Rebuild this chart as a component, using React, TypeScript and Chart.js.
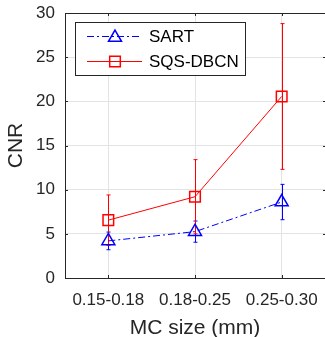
import React, { useEffect, useRef } from "react";
import { Chart, registerables } from "chart.js";

Chart.register(...registerables);

const categories = ["0.15-0.18", "0.18-0.25", "0.25-0.30"];
const seriesNames = ["SART", "SQS-DBCN"];
const sartValues = [4.2, 5.25, 8.6];
const sartErrors = [1.0, 1.2, 2.0];
const sqsValues = [6.55, 9.2, 20.55];
const sqsErrors = [2.85, 4.2, 8.25];
const yMin = 0;
const yMax = 30;
const yStep = 5;
const xTitle = "MC size (mm)";
const yTitle = "CNR";

const FONT = "'Liberation Sans', Arial, Helvetica, sans-serif";
const AXIS = "#262626";
const BLUE = "#0000ff";
const RED = "#ff0000";
const SART_DASH = [7, 3, 2, 3];

const errorSets = [sartErrors, sqsErrors];

function drawMarker(ctx: CanvasRenderingContext2D, style: string, x: number, y: number, r: number) {
  ctx.beginPath();
  if (style === "triangle") {
    let rad = 0;
    ctx.moveTo(x + Math.sin(rad) * r, y - Math.cos(rad) * r);
    rad += (2 * Math.PI) / 3;
    ctx.lineTo(x + Math.sin(rad) * r, y - Math.cos(rad) * r);
    rad += (2 * Math.PI) / 3;
    ctx.lineTo(x + Math.sin(rad) * r, y - Math.cos(rad) * r);
    ctx.closePath();
  } else {
    const s = r * Math.SQRT1_2;
    ctx.rect(x - s, y - s, 2 * s, 2 * s);
  }
  ctx.stroke();
}

const errorBarPlugin = {
  id: "errorBars",
  beforeDatasetsDraw(chart: any) {
    const ctx = chart.ctx as CanvasRenderingContext2D;
    const xs = chart.scales.x;
    const ys = chart.scales.y;
    chart.data.datasets.forEach((ds: any, di: number) => {
      const errs = errorSets[di];
      ctx.save();
      ctx.strokeStyle = ds.borderColor;
      ctx.lineWidth = 1;
      ctx.setLineDash([]);
      ds.data.forEach((p: any, i: number) => {
        const x = Math.round(xs.getPixelForValue(p.x)) + 0.5;
        const yt = ys.getPixelForValue(p.y + errs[i]);
        const yb = ys.getPixelForValue(p.y - errs[i]);
        ctx.beginPath();
        ctx.moveTo(x, yt);
        ctx.lineTo(x, yb);
        ctx.moveTo(x - 2, yt);
        ctx.lineTo(x + 2, yt);
        ctx.moveTo(x - 2, yb);
        ctx.lineTo(x + 2, yb);
        ctx.stroke();
      });
      ctx.restore();
    });
  },
};

const framePlugin = {
  id: "frameAndLegend",
  afterDraw(chart: any) {
    const ctx = chart.ctx as CanvasRenderingContext2D;
    const { left, right, top, bottom } = chart.chartArea;
    const xs = chart.scales.x;
    const ys = chart.scales.y;
    ctx.save();
    ctx.strokeStyle = AXIS;
    ctx.lineWidth = 1;
    ctx.beginPath();
    ctx.moveTo(left, top + 0.5);
    ctx.lineTo(right + 1, top + 0.5);
    const tl = 3;
    for (let v = yMin; v <= yMax; v += yStep) {
      const y = Math.round(ys.getPixelForValue(v)) + 0.5;
      ctx.moveTo(left, y);
      ctx.lineTo(left + tl, y);
      ctx.moveTo(right + 1, y);
      ctx.lineTo(right + 1 - tl, y);
    }
    categories.forEach((_, i) => {
      const x = Math.round(xs.getPixelForValue(i + 1)) + 0.5;
      ctx.moveTo(x, top);
      ctx.lineTo(x, top + tl);
      ctx.moveTo(x, bottom);
      ctx.lineTo(x, bottom - tl);
    });
    ctx.stroke();

    // legend
    const bx = 75.5, by = 22.5, bw = 170, bh = 53;
    ctx.fillStyle = "#ffffff";
    ctx.fillRect(bx, by, bw, bh);
    ctx.strokeStyle = AXIS;
    ctx.strokeRect(bx, by, bw, bh);
    const rows = [36.5, 61.5];
    const styles = ["triangle", "rect"];
    const colors = [BLUE, RED];
    const dashes = [SART_DASH, []];
    seriesNames.forEach((name, i) => {
      const y = rows[i];
      ctx.strokeStyle = colors[i];
      ctx.lineWidth = 1;
      ctx.setLineDash(dashes[i]);
      ctx.beginPath();
      ctx.moveTo(87, y);
      ctx.lineTo(142, y);
      ctx.stroke();
      ctx.setLineDash([]);
      ctx.lineWidth = 1.5;
      drawMarker(ctx, styles[i], 115, y + (i === 0 ? 1 : 0), 7.5);
      ctx.fillStyle = "#000000";
      ctx.font = `17px ${FONT}`;
      ctx.textBaseline = "middle";
      ctx.textAlign = "left";
      ctx.fillText(name, 149, y + 0.5);
    });
    ctx.restore();
  },
};

export default function App() {
  const ref = useRef<HTMLCanvasElement | null>(null);
  useEffect(() => {
    if (!ref.current) return;
    const chart = new Chart(ref.current, {
      type: "line",
      data: {
        datasets: [
          {
            label: seriesNames[0],
            data: sartValues.map((v, i) => ({ x: i + 1, y: v })),
            borderColor: BLUE,
            backgroundColor: "transparent",
            borderWidth: 1,
            borderDash: SART_DASH,
            pointStyle: "triangle",
            pointRadius: 7.5,
            pointBorderWidth: 1.5,
            pointBorderColor: BLUE,
            pointBackgroundColor: "transparent",
            tension: 0,
          },
          {
            label: seriesNames[1],
            data: sqsValues.map((v, i) => ({ x: i + 1, y: v })),
            borderColor: RED,
            backgroundColor: "transparent",
            borderWidth: 1,
            pointStyle: "rect",
            pointRadius: 7.5,
            pointBorderWidth: 1.5,
            pointBorderColor: RED,
            pointBackgroundColor: "transparent",
            tension: 0,
          },
        ],
      },
      options: {
        animation: false,
        responsive: false,
        devicePixelRatio: 1,
        layout: { padding: { top: 13, right: 0, left: 0, bottom: 0 }, autoPadding: false },
        plugins: { legend: { display: false }, tooltip: { enabled: false } },
        scales: {
          x: {
            type: "linear",
            min: 0.5,
            max: 3.5,
            afterBuildTicks: (s: any) => {
              s.ticks = categories.map((_, i) => ({ value: i + 1 }));
            },
            afterFit: (s: any) => {
              s.height = 59;
              s.paddingLeft = 0;
              s.paddingRight = 0;
            },
            ticks: {
              autoSkip: false,
              maxRotation: 0,
              padding: 12,
              color: AXIS,
              font: { family: FONT, size: 17 },
              callback: (v: any) => categories[Number(v) - 1] ?? "",
            },
            grid: { color: "#e3e3e3", drawTicks: false },
            border: { display: true, color: AXIS, width: 1 },
            title: {
              display: true,
              text: xTitle,
              color: AXIS,
              font: { family: FONT, size: 21, lineHeight: 0.8 },
              padding: { top: 0, bottom: 0 },
            },
          },
          y: {
            min: yMin,
            max: yMax,
            afterFit: (s: any) => {
              s.width = 65;
              s.paddingTop = 0;
              s.paddingBottom = 0;
            },
            ticks: {
              stepSize: yStep,
              padding: 10,
              color: AXIS,
              font: { family: FONT, size: 17 },
            },
            grid: { color: "#e3e3e3", drawTicks: false },
            border: { display: true, color: AXIS, width: 1 },
            title: {
              display: true,
              text: yTitle,
              color: AXIS,
              font: { family: FONT, size: 21 },
              padding: { top: 4, bottom: 0 },
            },
          },
        },
      },
      plugins: [errorBarPlugin, framePlugin],
    } as any);
    return () => chart.destroy();
  }, []);
  return (
    <div style={{ position: "fixed", left: 0, top: 0, width: 325, height: 337, background: "#fff" }}>
      <canvas ref={ref} width={325} height={337} style={{ display: "block" }} />
    </div>
  );
}
